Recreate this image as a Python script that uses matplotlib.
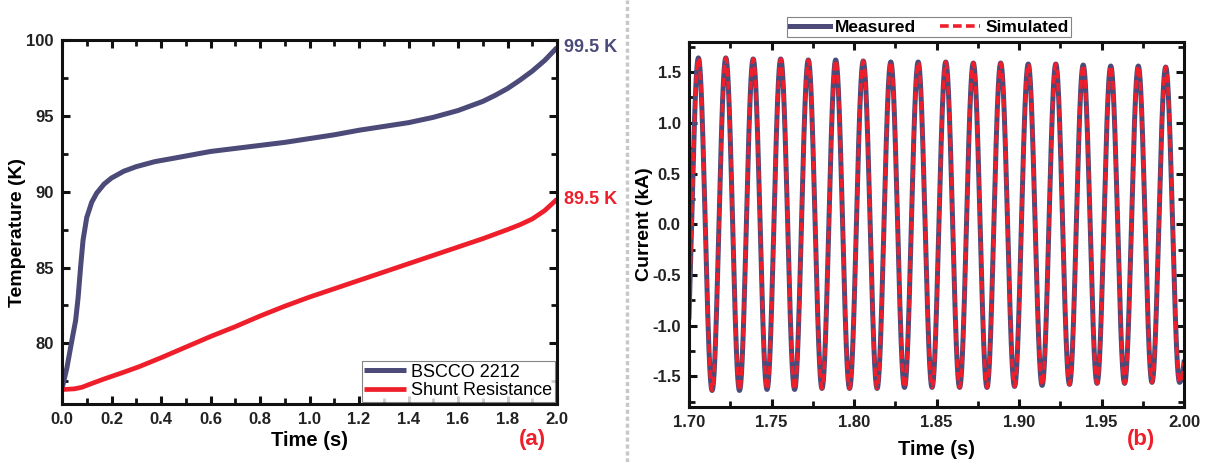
import numpy as np
import matplotlib
matplotlib.use("Agg")
import matplotlib.pyplot as plt
from matplotlib.lines import Line2D
from matplotlib.ticker import MultipleLocator

plt.rcParams['font.family'] = ['Liberation Sans', 'DejaVu Sans']
plt.rcParams['axes.unicode_minus'] = False

# ---------------- data (a) ----------------
bscco_t = [0.0, 0.02, 0.04, 0.055, 0.065, 0.075, 0.085, 0.10, 0.12, 0.14, 0.17, 0.20, 0.25, 0.30,
           0.375, 0.45, 0.50, 0.60, 0.70, 0.80, 0.90, 1.00, 1.10, 1.20, 1.30, 1.40, 1.50, 1.60,
           1.70, 1.75, 1.80, 1.85, 1.90, 1.95, 2.00]
bscco_T = [77.0, 78.4, 80.2, 81.5, 83.0, 85.0, 86.8, 88.3, 89.3, 89.9, 90.5, 90.9, 91.35, 91.65,
           91.98, 92.2, 92.35, 92.65, 92.85, 93.05, 93.25, 93.5, 93.75, 94.05, 94.3, 94.55, 94.9, 95.35,
           95.95, 96.35, 96.8, 97.35, 97.95, 98.65, 99.5]

shunt_t = [0.0, 0.05, 0.08, 0.12, 0.17, 0.25, 0.31, 0.40, 0.50, 0.60, 0.70, 0.80, 0.90, 1.00,
           1.10, 1.20, 1.30, 1.40, 1.50, 1.60, 1.70, 1.80, 1.85, 1.90, 1.95, 2.00]
shunt_T = [76.95, 77.0, 77.1, 77.35, 77.65, 78.1, 78.45, 79.05, 79.75, 80.45, 81.1, 81.8, 82.45, 83.05,
           83.6, 84.15, 84.7, 85.25, 85.8, 86.35, 86.9, 87.5, 87.82, 88.2, 88.75, 89.5]

# ---------------- data (b): extrema of the 60 Hz current ----------------
peak_times = [1.7057, 1.7223, 1.7389, 1.7556, 1.7723, 1.7889, 1.8056, 1.8223, 1.8389, 1.8556,
              1.8723, 1.8889, 1.9056, 1.9223, 1.9389, 1.9556, 1.9723, 1.9889, 2.0139]
meas_peaks = [1.64, 1.64, 1.63, 1.63, 1.62, 1.62, 1.61, 1.60, 1.60, 1.60,
              1.59, 1.59, 1.58, 1.58, 1.57, 1.56, 1.56, 1.55, 1.55]
trough_times = [1.6974, 1.7140, 1.7306, 1.7473, 1.7640, 1.7806, 1.7973, 1.8140, 1.8306, 1.8473,
                1.8640, 1.8806, 1.8973, 1.9140, 1.9306, 1.9473, 1.9640, 1.9806, 1.9973]
meas_troughs = [-1.65, -1.64, -1.64, -1.63, -1.63, -1.62, -1.62, -1.62, -1.61, -1.61,
                -1.61, -1.61, -1.60, -1.59, -1.58, -1.57, -1.57, -1.56, -1.56]
sim_peaks = list(meas_peaks)
sim_troughs = list(meas_troughs)

xticks_a = [0.0, 0.2, 0.4, 0.6, 0.8, 1.0, 1.2, 1.4, 1.6, 1.8, 2.0]
yticks_a = [80, 85, 90, 95, 100]
xticks_b = [1.70, 1.75, 1.80, 1.85, 1.90, 1.95, 2.00]
yticks_b = [-1.5, -1.0, -0.5, 0.0, 0.5, 1.0, 1.5]

SLATE = '#4b4a78'
RED = '#ee1f2b'


def wave(tt, peaks, troughs):
    et = np.array(sorted(zip(trough_times + peak_times, troughs + peaks)))
    times, vals = et[:, 0], et[:, 1]
    idx = np.clip(np.searchsorted(times, tt) - 1, 0, len(times) - 2)
    s = (tt - times[idx]) / (times[idx + 1] - times[idx])
    return vals[idx] + (vals[idx + 1] - vals[idx]) * (1 - np.cos(np.pi * s)) / 2


fig = plt.figure(figsize=(12.1, 4.62), dpi=100)
axa = fig.add_axes([62 / 1210, 1 - 404 / 462, 495 / 1210, 364 / 462])
axb = fig.add_axes([689 / 1210, 1 - 406.7 / 462, 495 / 1210, 365 / 462])


def style(ax):
    for sp in ax.spines.values():
        sp.set_linewidth(2.2)
        sp.set_color('#111111')
    ax.tick_params(which='both', direction='in', top=True, right=True, color='#111111')
    ax.tick_params(which='major', length=6, width=2.2, labelsize=12, pad=6)
    ax.tick_params(which='minor', length=4, width=2.0)
    for lab in ax.get_xticklabels() + ax.get_yticklabels():
        lab.set_fontweight('bold')
        lab.set_color('#222222')


# ---- (a)
axa.plot(bscco_t, bscco_T, color=SLATE, lw=3.6, label='BSCCO 2212', solid_capstyle='butt')
axa.plot(shunt_t, shunt_T, color=RED, lw=3.4, label='Shunt Resistance', solid_capstyle='butt')
axa.set_xlim(0, 2.0)
axa.set_ylim(76, 100)
axa.set_xticks(xticks_a)
axa.set_xticklabels([f'{v:.1f}' for v in xticks_a])
axa.set_yticks(yticks_a)
axa.xaxis.set_minor_locator(MultipleLocator(0.1))
axa.yaxis.set_minor_locator(MultipleLocator(2.5))
style(axa)
axa.set_xlabel('Time (s)', fontsize=14.5, fontweight='bold', labelpad=3)
axa.set_ylabel('Temperature (K)', fontsize=14, fontweight='bold', va='center')
axa.yaxis.set_label_coords(-0.089, 0.47)
leg = axa.legend(loc='lower right', fontsize=13, frameon=True, fancybox=False, borderaxespad=0.1,
                 handlelength=2.3, handletextpad=0.3, borderpad=0.15, labelspacing=0.1)
leg.get_frame().set_edgecolor('#666666')
leg.get_frame().set_linewidth(0.8)
axa.annotate('99.5 K', xy=(2.0, bscco_T[-1]), xytext=(5, 0), textcoords='offset points',
             va='center', ha='left', fontsize=13, fontweight='bold', color=SLATE,
             annotation_clip=False)
axa.annotate('89.5 K', xy=(2.0, shunt_T[-1]), xytext=(5, 0), textcoords='offset points',
             va='center', ha='left', fontsize=13, fontweight='bold', color=RED,
             annotation_clip=False)
fig.text(532 / 1210, 1 - 440 / 462, '(a)', color=RED, fontsize=16, fontweight='bold',
         ha='center', va='center')

# ---- (b)
tt = np.linspace(1.70, 2.0, 3000)
axb.plot(tt, wave(tt, meas_peaks, meas_troughs), color=SLATE, lw=3.6, label='Measured')
axb.plot(tt, wave(tt, sim_peaks, sim_troughs), color=RED, lw=2.6, ls=(0, (2.4, 1.2)),
         label='Simulated')
axb.set_xlim(1.70, 2.0)
axb.set_ylim(-1.8, 1.8)
axb.set_xticks(xticks_b)
axb.set_xticklabels([f'{v:.2f}' for v in xticks_b])
axb.set_yticks(yticks_b)
axb.set_yticklabels([f'{v:.1f}' for v in yticks_b])
axb.xaxis.set_minor_locator(MultipleLocator(0.025))
axb.yaxis.set_minor_locator(MultipleLocator(0.25))
style(axb)
axb.set_xlabel('Time (s)', fontsize=14.5, fontweight='bold', labelpad=7)
axb.set_ylabel('Current (kA)', fontsize=14, fontweight='bold', va='center')
axb.yaxis.set_label_coords(-0.089, 0.5)
legb = axb.legend(loc='lower center', bbox_to_anchor=(0.485, 1.012), ncol=2, frameon=True,
                  fancybox=False, prop={'weight': 'bold', 'size': 12.5}, borderpad=0.15,
                  handlelength=2.3, handletextpad=0.3, columnspacing=1.4, borderaxespad=0.0)
legb.get_frame().set_edgecolor('#666666')
legb.get_frame().set_linewidth(0.8)
fig.text(1141 / 1210, 1 - 439 / 462, '(b)', color=RED, fontsize=16, fontweight='bold',
         ha='center', va='center')

# separator
fig.add_artist(Line2D([627 / 1210, 627 / 1210], [0, 1], transform=fig.transFigure,
                      color='#c8c8c8', lw=2.5, ls=(0, (1.2, 0.8))))

fig.savefig('out.png', dpi=100)
